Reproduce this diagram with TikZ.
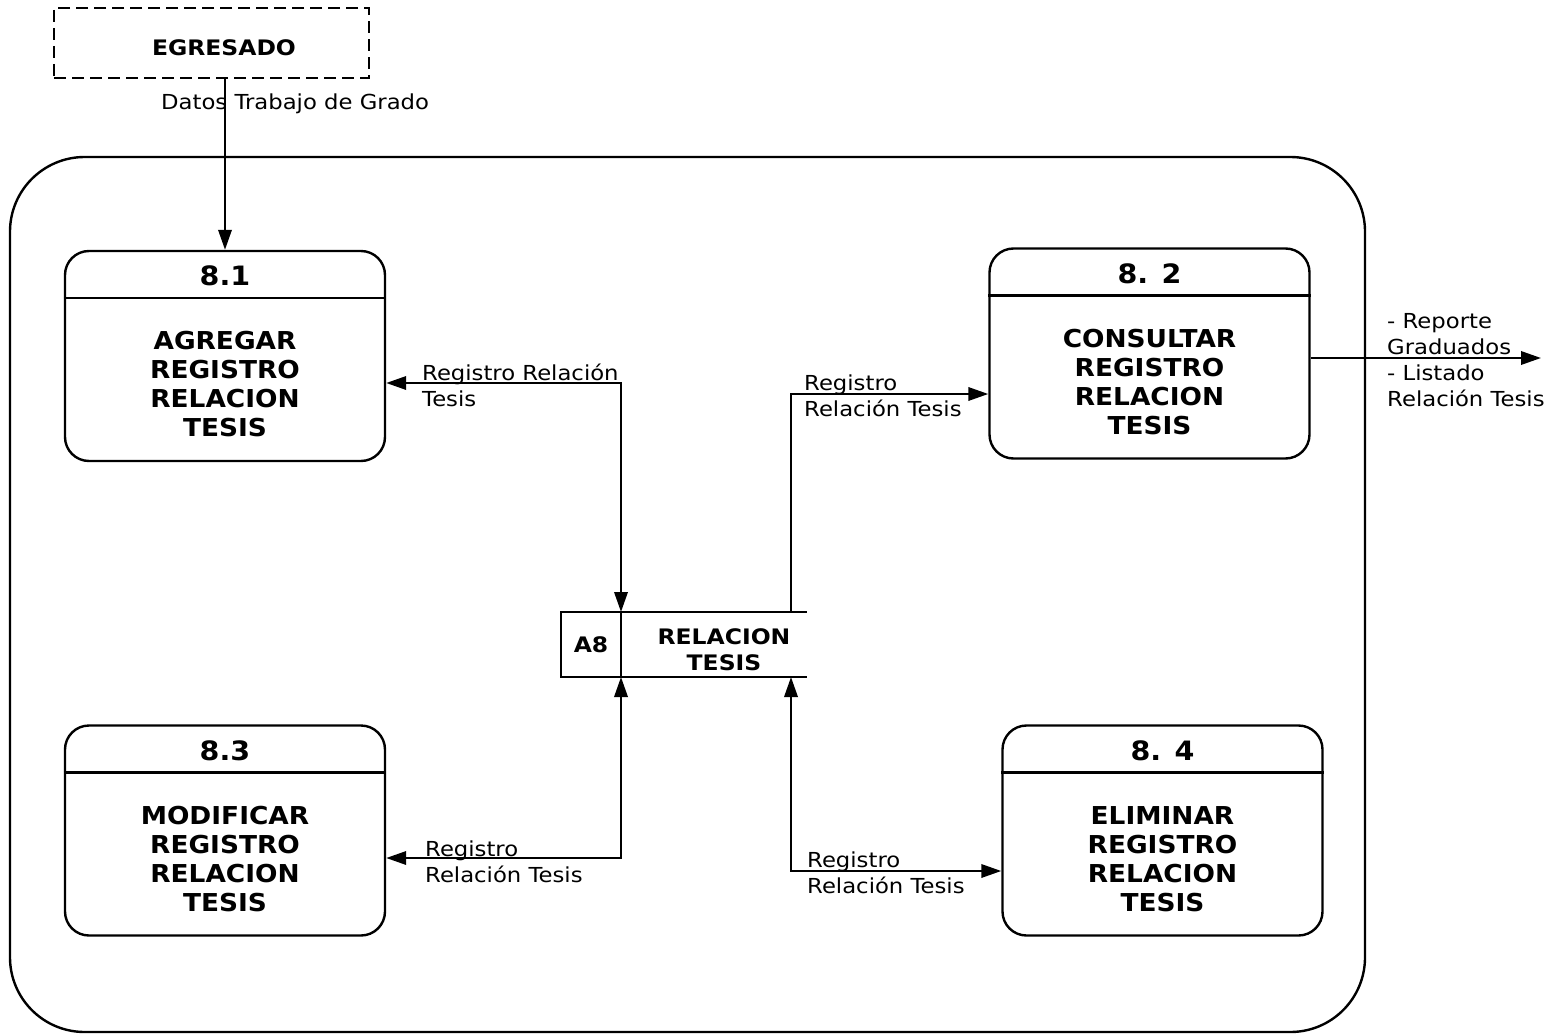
\documentclass[tikz,border=0pt]{standalone}
\usepackage{fontspec}
\setmainfont{DejaVu Sans}
\newfontfamily\lblfont{DejaVu Sans}[FakeStretch=1.1]
\newfontfamily\bfont{DejaVu Sans Bold}[FakeStretch=1.07]
\newfontfamily\sfont{DejaVu Sans Bold}[FakeStretch=1.1]
\usetikzlibrary{arrows.meta,calc}
\begin{document}
\begin{tikzpicture}[x=0.75pt,y=-0.75pt,
  line width=1.8pt,
  >={Triangle[length=15pt,width=10pt]},
  proc/.style={draw,rounded corners=18pt,minimum width=240pt,minimum height=157.5pt,inner sep=0pt},
  ptitle/.style={font=\fontsize{20}{24}\bfont,inner sep=0pt},
  pbody/.style={font=\fontsize{18.5}{21.75}\bfont,align=center,inner sep=0pt},
  flowlbl/.style={font=\fontsize{15.5}{19.5}\lblfont,align=left,inner sep=0pt,anchor=west},
  storetxt/.style={font=\fontsize{16}{19.5}\sfont,align=center,inner sep=0pt}]
\useasboundingbox (0,0) rectangle (1555,1034);
% outer boundary
\draw[rounded corners=56pt] (10,157) rectangle (1365,1032);
% external entity
\node[draw,dash pattern=on 9pt off 4.5pt,minimum width=236.25pt,minimum height=52.5pt,inner sep=0pt] (eg) at (211.5,43) {};
\node[storetxt] (egt) at (224,48) {EGRESADO};
% processes
\node[proc] (p81) at (225,356) {};
\node[proc] (p82) at (1149.5,353.5) {};
\node[proc] (p83) at (225,830.5) {};
\node[proc] (p84) at (1162.5,830.5) {};
\foreach \p/\num/\txt in {p81/8.1/{AGREGAR\\REGISTRO\\RELACION\\TESIS},
                          p82/8. 2/{CONSULTAR\\REGISTRO\\RELACION\\TESIS},
                          p83/8.3/{MODIFICAR\\REGISTRO\\RELACION\\TESIS},
                          p84/8. 4/{ELIMINAR\\REGISTRO\\RELACION\\TESIS}}{
  \draw (\p.north west) ++(0,48) -- ($(\p.north east)+(0,48)$);
  \node[ptitle] (\p t) at ($(\p.north)+(0,26)$) {\num};
  \node[pbody] (\p b) at ($(\p.north)+(0,134.5)$) {\txt};
}
% data store
\node[draw,minimum width=45pt,minimum height=48.75pt,inner sep=0pt,outer sep=0pt,storetxt] (a8) at (591,644.5) {A8};
\coordinate (stTR) at (807,612);
\coordinate (stBR) at (807,677);
\draw (a8.north east) -- (stTR);
\draw (a8.south east) -- (stBR);
\node[storetxt] (stt) at (724,650) {RELACION\\TESIS};
\coordinate (s2) at (791,612);
\coordinate (s4) at (791,677);
\coordinate (out) at (1541,358);
% flows
\draw[->] (eg.south -| p81.north) -- (p81.north);
\draw[<->] (a8.north east) |- ($(p81.east)+(0,27)$);
\draw[->] (s2) |- ($(p82.west)+(0,40.5)$);
\draw[<->] (a8.south east) |- ($(p83.east)+(0,27.5)$);
\draw[<->] (s4) |- ($(p84.west)+(0,40.5)$);
\draw[->] ($(p82.east)+(0,4.5)$) -- (out);
% labels
\node[flowlbl] (l0) at (160,104) {Datos Trabajo de Grado};
\node[flowlbl] (l1) at (421,385) {Registro Relación\\Tesis};
\node[flowlbl] (l2) at (803,396) {Registro\\Relación Tesis};
\node[flowlbl] (l3) at (424,862) {Registro\\Relación Tesis};
\node[flowlbl] (l4) at (806,872.5) {Registro\\Relación Tesis};
\node[flowlbl] (l5) at (1386,360) {- Reporte\\Graduados\\- Listado\\Relación Tesis};
\end{tikzpicture}
\end{document}
